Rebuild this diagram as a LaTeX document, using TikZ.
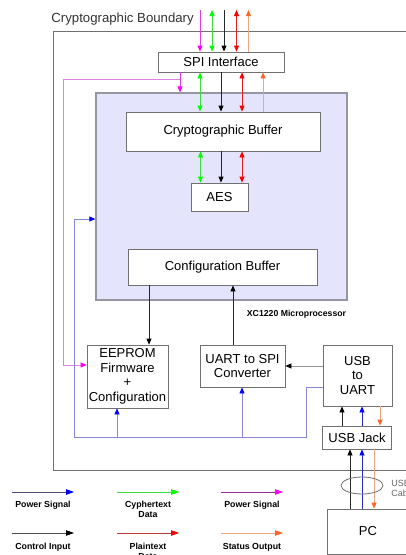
\documentclass[tikz,border=0pt]{standalone}
\usepackage{fontspec}
\setmainfont{Liberation Sans}
\usetikzlibrary{arrows.meta}

\definecolor{boxgray}{RGB}{112,112,112}
\definecolor{mcufill}{RGB}{228,228,252}
\definecolor{mcuedge}{RGB}{150,150,160}
\definecolor{magh}{RGB}{255,0,255}
\definecolor{magl}{RGB}{225,60,225}
\definecolor{pinkl}{RGB}{225,130,225}
\definecolor{grnh}{RGB}{0,255,0}
\definecolor{grnl}{RGB}{60,220,60}
\definecolor{redh}{RGB}{255,0,0}
\definecolor{redl}{RGB}{220,30,30}
\definecolor{orh}{RGB}{255,100,40}
\definecolor{orl}{RGB}{240,165,135}
\definecolor{blueh}{RGB}{0,0,255}
\definecolor{bluel}{RGB}{135,135,215}
\definecolor{blued}{RGB}{40,40,200}
\definecolor{blkl}{RGB}{40,40,40}
\definecolor{grayl}{RGB}{150,150,150}

\begin{document}
\begin{tikzpicture}[x=1pt, y=-1pt,
    box/.style={draw=boxgray, line width=0.8pt, fill=white, inner sep=0pt,
        align=center, font=\fontsize{13}{14.6}\selectfont},
    lgd/.style={inner sep=0pt, align=center, font=\bfseries\fontsize{8.8}{10}\selectfont},
    hd/.style={-{Triangle[length=6pt,width=5pt,color=#1]}},
    tl/.style={{Triangle[length=6pt,width=5pt,color=#1]}-},
    dhd/.style={{Triangle[length=6pt,width=5pt,color=#1]}-{Triangle[length=6pt,width=5pt,color=#1]}},
    lhd/.style={-{Triangle[length=8pt,width=5.5pt,color=#1]}},
    line width=0.8pt]
    \useasboundingbox (0,0) rectangle (406,555);
    \clip (0,0) rectangle (406,555);

    % cryptographic boundary
    \draw[boxgray, line width=1pt] (53,31) rectangle (430,470);
    \node[inner sep=0pt, anchor=west, font=\fontsize{13.2}{15}\selectfont, text=black!80] (bndlbl) at (51,19) {Cryptographic Boundary};

    % microprocessor
    \node[draw=mcuedge, line width=1.2pt, fill=mcufill, minimum width=251pt, minimum height=207pt, inner sep=0pt] (mcu) at (221.5,196.5) {};
    \node[inner sep=0pt, font=\bfseries\fontsize{8.7}{10}\selectfont] (mculbl) at (296.5,314) {XC1220 Microprocessor};

    % boxes
    \node[box, minimum width=126pt, minimum height=20pt] (spi) at (221,62) {SPI Interface};
    \node[box, minimum width=194pt, minimum height=39pt] (cbuf) at (223,131.5) {Cryptographic Buffer};
    \node[box, minimum width=57pt, minimum height=28pt] (aes) at (219.5,197) {AES};
    \node[box, minimum width=189pt, minimum height=36pt] (cfg) at (222.5,267) {Configuration Buffer};
    \node[box, minimum width=81pt, minimum height=63pt] (eeprom) at (127.5,376.5) {EEPROM\\Firmware\\+\\Configuration};
    \node[box, minimum width=85pt, minimum height=42pt] (u2s) at (242.5,366) {UART to SPI\\Converter};
    \node[box, minimum width=69pt, minimum height=61pt] (u2u) at (357.5,375.5) {USB\\to\\UART};
    \node[box, minimum width=69pt, minimum height=23pt] (jack) at (357,437.5) {USB Jack};
    \node[box, minimum width=82pt, minimum height=45pt] (pc) at (368,531.5) {PC};

    % outside lines into SPI
    \coordinate (t1) at (200,10);
    \coordinate (t2) at (212,10);
    \coordinate (t3) at (224,10);
    \coordinate (t4) at (236.5,10);
    \coordinate (t5) at (248.5,10);
    \draw[magl, hd=magh] (t1) -- (spi.north -| t1);
    \draw[grnl, dhd=grnh] (t2) -- (spi.north -| t2);
    \draw[blkl, hd=black] (t3) -- (spi.north -| t3);
    \draw[redl, dhd=redh] (t4) -- (spi.north -| t4);
    \draw[orl, tl=orh] (t5) -- (spi.north -| t5);

    % SPI to crypto buffer
    \coordinate (mjoin) at (180,79);
    \draw[magl, hd=magh] (spi.south -| mjoin) -- (mcu.north -| mjoin);
    \draw[pinkl, hd=magh] (mjoin) -| (63,365) -- (eeprom.west |- 0,365);
    \draw[grnl, dhd=grnh] (spi.south -| 200,0) -- (cbuf.north -| 200,0);
    \draw[blkl, hd=black] (spi.south -| 221,0) -- (cbuf.north -| 221,0);
    \draw[redl, dhd=redh] (spi.south -| 242,0) -- (cbuf.north -| 242,0);
    \draw[orl, tl=orh] (spi.south -| 263,0) -- (cbuf.north -| 263,0);

    % crypto buffer to AES
    \draw[grnl, dhd=grnh] (cbuf.south -| 200.5,0) -- (aes.north -| 200.5,0);
    \draw[blkl, hd=black] (cbuf.south -| 221,0) -- (aes.north -| 221,0);
    \draw[redl, dhd=redh] (cbuf.south -| 242,0) -- (aes.north -| 242,0);

    % configuration paths
    \draw[blkl, hd=black] (cfg.south -| 149,0) -- (eeprom.north -| 149,0);
    \draw[blkl, hd=black] (u2s.north -| 233,0) -- (cfg.south -| 233,0);
    \draw[grayl, hd=black] (u2u.west |- 0,366) -- (u2s.east |- 0,366);

    % power routing
    \coordinate (bjoin) at (242,437);
    \draw[bluel, hd=blueh] (u2u.west |- 0,387) -| (306,437) -| (74,219) -- (mcu.west |- 0,219);
    \draw[bluel, hd=blueh] (117,437) -- (eeprom.south -| 117,0);
    \draw[bluel, hd=blueh] (bjoin) -- (u2s.south -| bjoin);

    % USB jack
    \draw[blkl, hd=black] (jack.north -| 342,0) -- (u2u.south -| 342,0);
    \draw[blued, hd=blueh] (jack.north -| 362,0) -- (u2u.south -| 362,0);
    \draw[orl, hd=orh] (u2u.south -| 380,0) -- (jack.north -| 380,0);

    % PC and cable
    \draw[blkl, hd=black] (pc.north -| 350,0) -- (jack.south -| 350,0);
    \draw[blued, hd=blueh] (pc.north -| 362,0) -- (jack.south -| 362,0);
    \draw[orl, hd=orh] (jack.south -| 374,0) -- (pc.north -| 374,0);
    \draw[boxgray] (362,485.5) ellipse [x radius=21, y radius=8.5];
    \node[inner sep=0pt, anchor=west, align=left, text=black!60, font=\fontsize{9}{10}\selectfont] (cablelbl) at (391,488) {USB\\Cable};

    % legend
    \coordinate (l1a) at (12,492);  \coordinate (l1b) at (74,492);
    \coordinate (l2a) at (117,492); \coordinate (l2b) at (179,492);
    \coordinate (l3a) at (221,492); \coordinate (l3b) at (283,492);
    \coordinate (l4a) at (12,533);  \coordinate (l4b) at (74,533);
    \coordinate (l5a) at (117,533); \coordinate (l5b) at (179,533);
    \coordinate (l6a) at (221,533); \coordinate (l6b) at (283,533);
    \draw[black!60!blue!40!gray, lhd=blueh] (l1a) -- (l1b);
    \draw[grnl, lhd=grnh] (l2a) -- (l2b);
    \draw[magl!70!black, lhd=magh] (l3a) -- (l3b);
    \draw[black!70, lhd=black] (l4a) -- (l4b);
    \draw[redl!70!gray, lhd=redh] (l5a) -- (l5b);
    \draw[orl, lhd=orh] (l6a) -- (l6b);
    \node[lgd] (pwr1) at (43,505) {Power Signal};
    \node[lgd] (cyph) at (148,509) {Cyphertext\\Data};
    \node[lgd] (pwr2) at (252,505) {Power Signal};
    \node[lgd] (ctrl) at (43,547) {Control Input};
    \node[lgd] (plain) at (148,551) {Plaintext\\Data};
    \node[lgd] (stat) at (252,547) {Status Output};
\end{tikzpicture}
\end{document}
